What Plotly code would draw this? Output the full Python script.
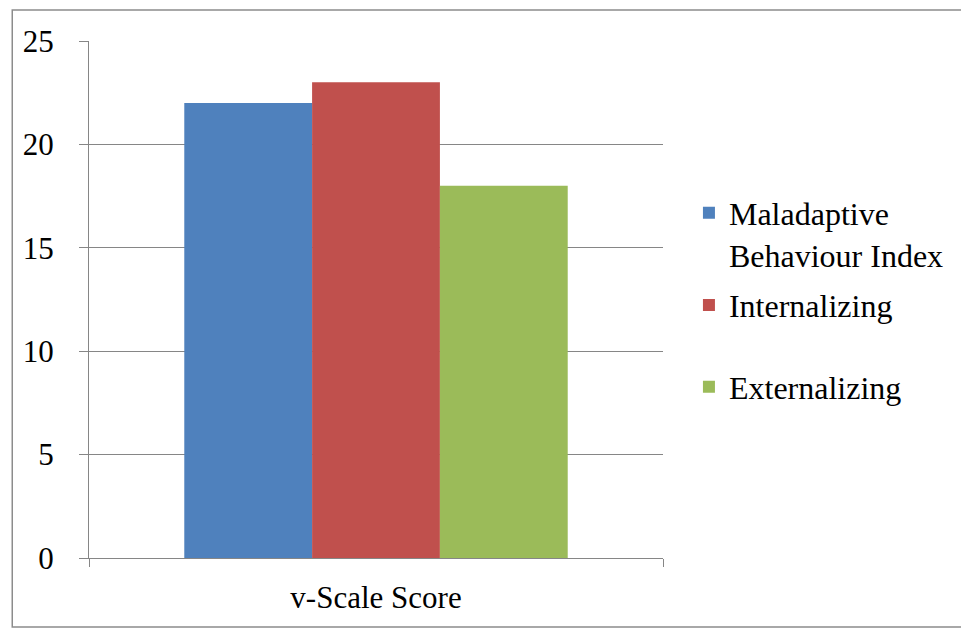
import plotly.graph_objects as go

# v-Scale scores for the three composite indices
category = ["v-Scale Score"]
series_names = ["Maladaptive<br>Behaviour Index", "Internalizing", "Externalizing"]
series_values = [22, 23, 18]
series_colors = ["#4F81BD", "#C0504D", "#9BBB59"]
y_ticks = [0, 5, 10, 15, 20, 25]

BASE_FONT = "Roboto"
FONT = "serif"
FS = 31
LEG_FS = 32
GRID = "#868686"

# one legend per series so each entry can sit at its own height
legend_ids = ["legend", "legend2", "legend3"]
legend_y = [0.627, 0.489, 0.331]

fig = go.Figure()
for name, val, col, lg in zip(series_names, series_values, series_colors, legend_ids):
    fig.add_trace(go.Bar(
        x=category, y=[val], name=name, marker_color=col,
        marker_line_width=0, legend=lg,
    ))

layout_legends = {}
for lg, ly in zip(legend_ids, legend_y):
    layout_legends[lg] = dict(
        x=1.0452, y=ly, xanchor="left", yanchor="middle",
        font=dict(family=FONT, size=LEG_FS, color="#000"),
        bgcolor="rgba(0,0,0,0)", itemwidth=30, valign="top",
        tracegroupgap=0,
    )

fig.update_layout(
    width=961, height=629,
    margin=dict(l=89, r=296, t=41, b=71),
    paper_bgcolor="white", plot_bgcolor="white",
    barmode="group", bargap=0.332, bargroupgap=0,
    font=dict(family=BASE_FONT, size=FS, color="#000"),
    showlegend=True,
    **layout_legends,
    xaxis=dict(
        type="category", tickson="boundaries", ticks="outside",
        ticklen=8, tickcolor=GRID, tickwidth=1,
        showline=True, linecolor=GRID, linewidth=1,
        showgrid=False, range=[-0.5, 0.5],
        tickfont=dict(family=FONT, size=FS, color="#000"),
        ticklabelstandoff=12,
    ),
    yaxis=dict(
        range=[0, 25], tickvals=y_ticks, ticks="outside",
        ticklen=9, tickcolor=GRID, tickwidth=1,
        showline=True, linecolor=GRID, linewidth=1,
        showgrid=True, gridcolor=GRID, gridwidth=1,
        zeroline=False,
        tickfont=dict(family=FONT, size=FS, color="#000"),
        ticklabelstandoff=19,
    ),
    shapes=[dict(
        type="rect", xref="paper", yref="paper",
        x0=-0.1337, x1=1.53, y0=-0.1335, y1=1.060,
        line=dict(color="#8c8c8c", width=1.5), fillcolor="rgba(0,0,0,0)",
        layer="below",
    )],
)

fig.write_html("out.html")
